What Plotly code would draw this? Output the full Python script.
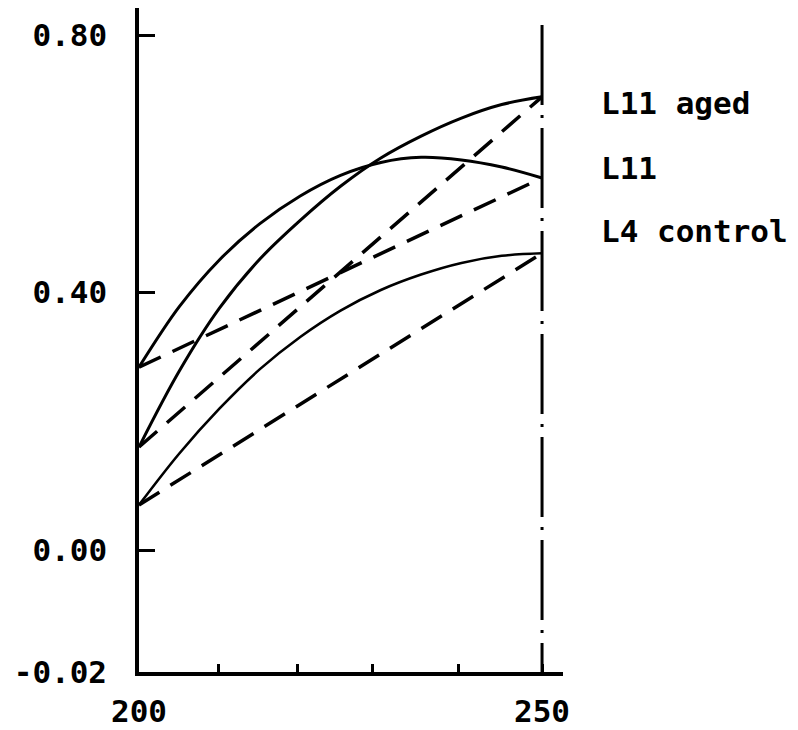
import plotly.graph_objects as go

# ---- data ----
x_grid = [200, 205, 210, 215, 220, 225, 230, 235, 240, 245, 250]
y_aged = [0.160, 0.278, 0.376, 0.452, 0.512, 0.565, 0.609, 0.643, 0.671, 0.692, 0.704]
y_l11 = [0.284, 0.378, 0.451, 0.507, 0.550, 0.582, 0.602, 0.610, 0.606, 0.595, 0.578]
y_l4 = [0.070, 0.150, 0.220, 0.281, 0.331, 0.372, 0.404, 0.428, 0.446, 0.457, 0.461]

chord_x = [200, 250]
chord_aged = [0.160, 0.704]
chord_l11 = [0.284, 0.578]
chord_l4 = [0.070, 0.461]

vline_x = [250, 250]
vline_y = [0.8155, -0.1895]

ytick_vals = [-0.1895, 0.0, 0.40, 0.80]
ytick_text = ["-0.02", "0.00", "0.40", "0.80"]
xtick_vals = [200, 209.8, 219.7, 229.0, 239.6, 250]
xtick_text = ["200", "", "", "", "", "250"]

labels = ["L11 aged", "L11", "L4 control"]
label_y = [0.857, 0.759, 0.664]

FONT = "DejaVu Sans Mono"
FS = 31

fig = go.Figure()

for ys, w, name in [(y_aged, 3, "L11 aged"),
                    (y_l11, 3, "L11"),
                    (y_l4, 2.6, "L4 control")]:
    fig.add_trace(go.Scatter(x=x_grid, y=ys, mode="lines", name=name,
                             line=dict(color="black", width=w, shape="spline", smoothing=1.0),
                             showlegend=False, hoverinfo="skip"))

for ys, name in [(chord_aged, "L11 aged chord"), (chord_l11, "L11 chord"), (chord_l4, "L4 control chord")]:
    fig.add_trace(go.Scatter(x=chord_x, y=ys, mode="lines", name=name,
                             line=dict(color="black", width=3.5, dash="24px,13px"),
                             showlegend=False, hoverinfo="skip"))

fig.add_trace(go.Scatter(x=vline_x, y=vline_y, mode="lines", name="250",
                         line=dict(color="black", width=3, dash="80px,10px,3px,10px"),
                         showlegend=False, hoverinfo="skip"))

for txt, yy in zip(labels, label_y):
    fig.add_annotation(text=txt, xref="paper", yref="paper", x=1.085, y=yy,
                       xanchor="left", yanchor="middle", showarrow=False,
                       font=dict(family=FONT, size=FS, color="black", weight="bold"))

fig.update_xaxes(range=[200, 252.6], showgrid=False, zeroline=False, automargin=False,
                 showline=True, linecolor="black", linewidth=3.5,
                 tickmode="array", tickvals=xtick_vals, ticktext=xtick_text,
                 ticks="inside", ticklen=8, tickwidth=2.5, tickcolor="black",
                 ticklabelstandoff=9,
                 tickfont=dict(family=FONT, size=FS, color="black", weight="bold"))
fig.update_yaxes(range=[-0.1895, 0.842], showgrid=False, zeroline=False, automargin=False,
                 showline=True, linecolor="black", linewidth=3.5,
                 tickmode="array", tickvals=ytick_vals, ticktext=ytick_text,
                 ticks="inside", ticklen=16, tickwidth=3, tickcolor="black",
                 ticklabelstandoff=22,
                 tickfont=dict(family=FONT, size=FS, color="black", weight="bold"))

# page body adds an 8px margin, so the figure is sized to fit the 798x730 window
fig.update_layout(width=790, height=722,
                  margin=dict(l=131, r=235, t=0, b=58),
                  paper_bgcolor="white", plot_bgcolor="white",
                  showlegend=False)

fig.write_html("out.html")
